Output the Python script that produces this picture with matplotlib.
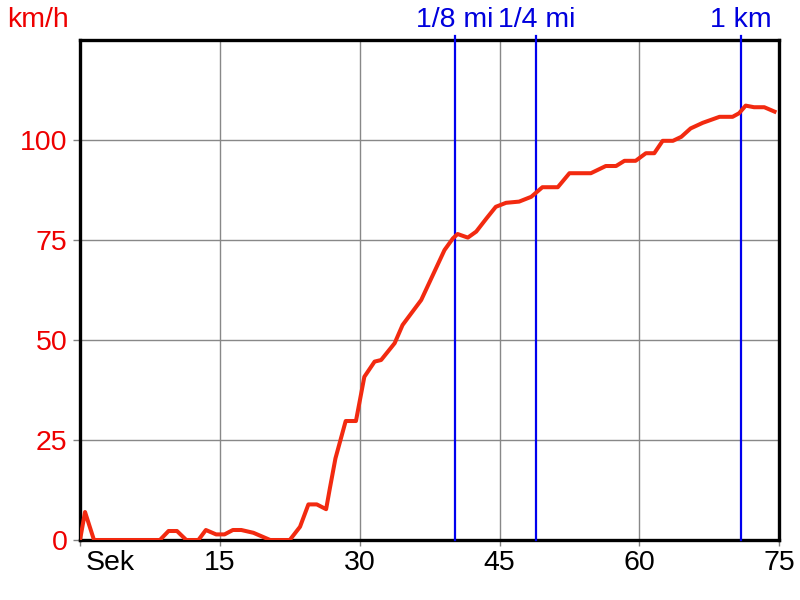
import matplotlib
matplotlib.use("Agg")
import matplotlib.pyplot as plt
from matplotlib.transforms import offset_copy, ScaledTranslation

# Data (time in s, speed in km/h)
time_s = [0.0, 0.54, 1.5, 8.57, 9.5, 10.4, 11.4, 12.7, 13.5, 14.6, 15.5, 16.4, 17.3,
          18.6, 20.4, 22.5, 23.6, 24.5, 25.4, 26.4, 26.8, 27.4, 28.5, 29.6, 30.5,
          31.6, 32.3, 33.75, 34.6, 36.6, 38.6, 39.1, 40.0, 40.5, 41.6, 42.5, 43.6,
          44.6, 45.7, 47.1, 48.4, 49.6, 51.25, 52.5, 54.8, 56.4, 57.5, 58.4, 59.6,
          60.7, 61.6, 62.5, 63.6, 64.5, 65.5, 66.8, 68.6, 70.0, 70.7, 71.4, 72.3,
          73.4, 74.5]
speed_kmh = [0.0, 7.0, 0.0, 0.0, 2.25, 2.25, 0.0, 0.0, 2.5, 1.4, 1.4, 2.5, 2.5,
             1.8, 0.0, 0.0, 3.3, 8.9, 8.9, 7.7, 12.9, 20.4, 29.75, 29.75, 40.8,
             44.6, 45.0, 49.2, 53.75, 60.0, 70.0, 72.5, 75.4, 76.5, 75.6, 77.1, 80.4,
             83.3, 84.3, 84.6, 85.8, 88.2, 88.2, 91.7, 91.7, 93.5, 93.5, 94.8, 94.8,
             96.7, 96.7, 99.8, 99.8, 100.8, 102.9, 104.3, 105.8, 105.8, 106.7, 108.6, 108.2,
             108.2, 107.1]

marker_times = [40.2, 48.95, 70.9]
marker_labels = ["1/8 mi", "1/4 mi", "1 km"]

x_ticks = [0, 15, 30, 45, 60, 75]
x_ticklabels = ["Sek", "15", "30", "45", "60", "75"]
y_ticks = [0, 25, 50, 75, 100]

FS = 20.5
plt.rcParams['font.family'] = ['Liberation Sans', 'DejaVu Sans']

fig = plt.figure(figsize=(8, 6), dpi=100)
ax = fig.add_axes([0.1, 0.1, 0.874, 0.8333])
ax.set_xlim(0, 75)
ax.set_ylim(0, 125)

ax.set_xticks(x_ticks)
ax.set_xticklabels(x_ticklabels, fontsize=FS, color='black')
ax.set_yticks(y_ticks)
ax.set_yticklabels([str(v) for v in y_ticks], fontsize=FS, color='#ee0000')
ax.tick_params(axis='x', length=4, width=1, color='gray', pad=3)
ax.tick_params(axis='y', length=5, width=1, color='gray', pad=4)
ax.grid(True, color='#888888', linewidth=1)
ax.set_axisbelow(True)
for s in ax.spines.values():
    s.set_color('black')
    s.set_linewidth(2.4)

first = ax.get_xticklabels()[0]
first.set_ha('left')
first.set_transform(first.get_transform() + ScaledTranslation(6 / 100, 0, fig.dpi_scale_trans))

for t, lab in zip(marker_times, marker_labels):
    ax.axvline(t, ymin=0, ymax=1.008, color='#0000ee', linewidth=1.6, clip_on=False, zorder=3)
    tr = offset_copy(ax.get_xaxis_transform(), fig=fig, x=0, y=13 * 0.72, units='points')
    ax.text(t, 1.0, lab, transform=tr, ha='center', va='baseline', fontsize=FS,
            color='#0000dd')

ax.plot(time_s, speed_kmh, color='#f22a10', linewidth=2.9, zorder=4, solid_joinstyle='round')

fig.text(7 / 800, 1 - 27 / 600, "km/h", fontsize=FS, color='#ee0000', ha='left', va='baseline')

fig.savefig("out.png", dpi=100)
